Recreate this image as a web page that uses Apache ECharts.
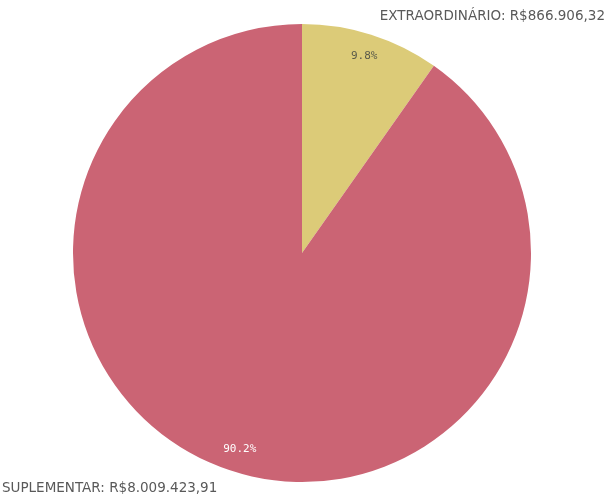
<!DOCTYPE html>
<html><head><meta charset="utf-8">
<script src="https://cdn.jsdelivr.net/npm/echarts@6/dist/echarts.min.js"></script>
<style>html,body{margin:0;padding:0;background:#fff}#c{width:608px;height:495px}</style>
</head><body><div id="c"></div>
<script>
const categories = ['EXTRAORDINÁRIO', 'SUPLEMENTAR'];
const values = [866906.32, 8009423.91];
const valueLabels = ['R$866.906,32', 'R$8.009.423,91'];
const colors = ['#dccb78', '#cb6474'];
const pctColors = ['#5a5a4a', '#ffffff'];

const total = values.reduce((a, b) => a + b, 0);
const data = categories.map((c, i) => ({ name: c, value: values[i] }));

const chart = echarts.init(document.getElementById('c'), null, { renderer: 'canvas' });
chart.setOption({
  animation: false,
  series: [
    {
      type: 'pie', center: [302, 253], radius: [0, 229], startAngle: 90, clockwise: true,
      silent: true,
      data: data.map((d, i) => ({ ...d, itemStyle: { color: colors[i] } })),
      label: { show: false }, labelLine: { show: false },
      itemStyle: { borderWidth: 0 }
    },
    {
      type: 'pie', center: [302, 253], radius: [177, 229], startAngle: 90, clockwise: true,
      silent: true,
      data: data.map((d, i) => ({ ...d, itemStyle: { color: 'rgba(0,0,0,0)' },
        label: { color: pctColors[i] } })),
      label: {
        show: true, position: 'inside', fontFamily: 'DejaVu Sans Mono', fontSize: 11,
        formatter: p => (p.value / total * 100).toFixed(1) + '%'
      },
      labelLine: { show: false },
      itemStyle: { borderWidth: 0 }
    }
  ],
  graphic: [
    { type: 'text', right: 3, top: 9, style: { text: categories[0] + ': ' + valueLabels[0], fill: '#595959', font: '13.5px "DejaVu Sans"' } },
    { type: 'text', left: 2, top: 481, style: { text: categories[1] + ': ' + valueLabels[1], fill: '#595959', font: '13.5px "DejaVu Sans"' } }
  ]
});
</script></body></html>
